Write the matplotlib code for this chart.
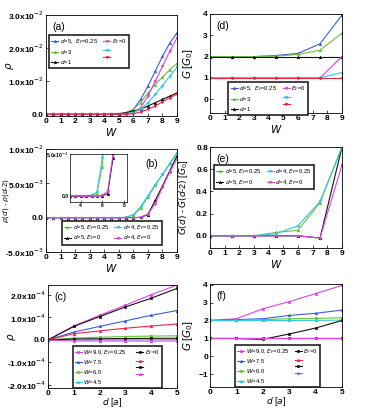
import matplotlib
matplotlib.use("Agg")
import matplotlib.pyplot as plt
import numpy as np

plt.rcParams['font.family'] = ['Liberation Sans', 'DejaVu Sans']
plt.rcParams['mathtext.fontset'] = 'dejavusans'

# colours
c_blue, c_green, c_black = '#3a5fd9', '#6cbf3a', '#111111'
c_mag, c_cyan, c_red = '#dd44e0', '#30c8e0', '#ee2244'

# ---- panel (a): rho vs W ----
w_a = [0, 0.5, 1, 1.5, 2, 2.5, 3, 3.5, 4, 4.5, 5, 5.5, 6, 6.5, 7, 7.5, 8, 8.5, 9]
a_d5_025 = [0, 0, 0, 0, 0, 0, 0, 0, 0, 0, 0.01, 0.05, 0.15, 0.45, 0.85, 1.3, 1.75, 2.15, 2.46]
a_d3_025 = [0, 0, 0, 0, 0, 0, 0, 0, 0, 0, 0.01, 0.05, 0.15, 0.35, 0.65, 0.9, 1.12, 1.35, 1.54]
a_d1_025 = [0, 0, 0, 0, 0, 0, 0, 0, 0, 0.01, 0.02, 0.05, 0.1, 0.16, 0.25, 0.35, 0.45, 0.55, 0.65]
a_d5_0 = [0, 0, 0, 0, 0, 0, 0, 0, 0, 0, 0, 0.01, 0.05, 0.2, 0.55, 1.0, 1.45, 1.9, 2.31]
a_d3_0 = [0, 0, 0, 0, 0, 0, 0, 0, 0, 0, 0, 0.01, 0.05, 0.15, 0.35, 0.6, 0.87, 1.15, 1.42]
a_d1_0 = [0, 0, 0, 0, 0, 0, 0, 0, 0, 0, 0, 0, 0.02, 0.07, 0.15, 0.25, 0.38, 0.5, 0.61]
a_yticks = [0, 1, 2, 3]
a_ylabels = ['0.0', '1.0x10$^{-2}$', '2.0x10$^{-2}$', '3.0x10$^{-2}$']

# ---- panel (d): G vs W ----
w_d = [0, 1.5, 3, 4.5, 6, 7.5, 9]
d_d5_025 = [2, 2, 2, 2.05, 2.15, 2.6, 3.95]
d_d3_025 = [2, 2, 2, 2.02, 2.1, 2.3, 3.1]
d_d1_025 = [2, 2, 2, 2, 2, 2, 2]
d_d5_0 = [1, 1, 1, 1, 1, 1, 2.0]
d_d3_0 = [1, 1, 1, 1, 1, 1, 1.25]
d_d1_0 = [1, 1, 1, 1, 1, 1, 1]

# ---- panel (b): rho(d) - rho(d-2) vs W (units of 1e-2) ----
b_d5_025 = [0, 0, 0, 0, 0, 0, 0, 0, 0, 0, 0.0005, 0.003, 0.035, 0.14, 0.3, 0.47, 0.63, 0.79, 0.95]
b_d4_025 = [0, 0, 0, 0, 0, 0, 0, 0, 0, 0.0003, 0.001, 0.005, 0.045, 0.16, 0.32, 0.48, 0.63, 0.78, 0.93]
b_d5_0 = [0, 0, 0, 0, 0, 0, 0, 0, 0, 0, 0, 0, 0.0005, 0.003, 0.045, 0.25, 0.46, 0.68, 0.9]
b_d4_0 = [0, 0, 0, 0, 0, 0, 0, 0, 0, 0, 0, 0, 0.001, 0.006, 0.05, 0.2, 0.44, 0.66, 0.86]
b_yticks = [-0.5, 0, 0.5, 1.0]
b_ylabels = ['-5.0x10$^{-3}$', '0.0', '5.0x10$^{-3}$', '1.0x10$^{-2}$']

# ---- panel (e): G(d) - G(d-2) vs W ----
e_d5_025 = [0, 0, 0, 0.03, 0.05, 0.30, 0.80]
e_d4_025 = [0, 0, 0, 0.02, 0.09, 0.31, 0.80]
e_d5_0 = [0, 0, 0, 0, 0, -0.02, 0.80]
e_d4_0 = [0, 0, 0, 0, 0, -0.02, 0.64]

# ---- panel (c): rho vs d (units of 1e-4) ----
d_c = [0, 1, 2, 3, 4, 5]
c_w9_025 = [0, 0.62, 1.1, 1.55, 2.02, 2.45]
c_w75_025 = [0, 0.35, 0.6, 0.85, 1.1, 1.31]
c_w6_025 = [0, 0.08, 0.12, 0.15, 0.17, 0.18]
c_w45_025 = [0, 0.0, 0.0, 0.0, 0.01, 0.01]
c_w9_0 = [0, 0.6, 1.04, 1.47, 1.86, 2.3]
c_w75_0 = [0, 0.28, 0.4, 0.52, 0.62, 0.71]
c_w6_0 = [0, 0.04, 0.05, 0.06, 0.07, 0.07]
c_w45_0 = [0, -0.05, -0.05, -0.05, -0.05, -0.05]
c_yticks = [-2, -1, 0, 1, 2]
c_ylabels = ['-2.0x10$^{-4}$', '-1.0x10$^{-4}$', '0.0', '1.0x10$^{-4}$', '2.0x10$^{-4}$']

# ---- panel (f): G vs d ----
f_w9_025 = [2.0, 2.1, 2.65, 3.05, 3.5, 3.95]
f_w75_025 = [2.0, 2.05, 2.1, 2.28, 2.4, 2.58]
f_w6_025 = [2.0, 2.0, 2.05, 2.1, 2.12, 2.15]
f_w45_025 = [2.0, 2.0, 2.0, 2.0, 2.01, 2.02]
f_w9_0 = [1, 1, 0.95, 1.25, 1.58, 2.0]
f_w75_0 = [1, 1, 1, 1, 1, 1]
f_w6_0 = [1, 1, 1, 1, 1, 1]
f_w45_0 = [1, 1, 1, 1, 1, 1]

fig = plt.figure(figsize=(3.73, 4.09), dpi=100)

TICK = dict(labelsize=6, direction='in', length=2, width=0.5, pad=1.5)


def style(ax):
    for s in ax.spines.values():
        s.set_linewidth(0.6)
    ax.tick_params(**TICK)
    for lab in ax.get_xticklabels() + ax.get_yticklabels():
        lab.set_fontweight('bold')


def line(ax, x, y, c, m):
    return ax.plot(x, y, '-', color=c, marker=m, ms=1.8, lw=0.8, mew=0.5)[0]


def leg(ax, handles, labels, x, y, colsp=0.9):
    lg = ax.legend(handles, labels, ncol=2, loc='upper left', bbox_to_anchor=(x, y),
                   fontsize=4.2, handlelength=1.2, handletextpad=0.3, columnspacing=colsp,
                   labelspacing=0.3, borderpad=0.35, borderaxespad=0, fancybox=False,
                   frameon=True, framealpha=1)
    lg.get_frame().set_edgecolor('#222222')
    lg.get_frame().set_linewidth(1.2)
    return lg


def ylab(ax, s, x, size=7.5):
    ax.set_ylabel(s, fontsize=size)
    ax.yaxis.set_label_coords(x, 0.5)


def xlab(ax, s, size=7.5, y=-0.1):
    ax.set_xlabel(s, fontsize=size)
    ax.xaxis.set_label_coords(0.5, y)


# (a)
ax = fig.add_axes([0.1233, 0.7164, 0.3512, 0.2469])
h = [line(ax, w_a, a_d5_025, c_blue, '^'), line(ax, w_a, a_d3_025, c_green, '^'),
     line(ax, w_a, a_d1_025, c_black, '^'), line(ax, w_a, a_d5_0, c_mag, 'v'),
     line(ax, w_a, a_d3_0, c_cyan, 'v'), line(ax, w_a, a_d1_0, c_red, 'v')]
ax.set_xlim(0, 9)
ax.set_ylim(-0.05, 3.0)
ax.set_xticks(range(10))
ax.set_yticks(a_yticks)
ax.set_yticklabels(a_ylabels, fontsize=4.2)
xlab(ax, '$W$')
ylab(ax, r'$\rho$', -0.23)
ax.text(0.05, 0.93, '(a)', transform=ax.transAxes, fontsize=7.5, va='top')
leg(ax, h, [r'$d$=5,  $E_F$=0.25', r'$d$=3', r'$d$=1', r'$E_F$=0', '', ''], 0.025, 0.8)
style(ax)

# (d)
ax = fig.add_axes([0.563, 0.7237, 0.3539, 0.2421])
h = [line(ax, w_d, d_d5_025, c_blue, '^'), line(ax, w_d, d_d3_025, c_green, '^'),
     line(ax, w_d, d_d1_025, c_black, '^'), line(ax, w_d, d_d5_0, c_mag, 'v'),
     line(ax, w_d, d_d3_0, c_cyan, 'v'), line(ax, w_d, d_d1_0, c_red, 'v')]
ax.set_xlim(0, 9)
ax.set_ylim(-0.65, 4)
ax.set_xticks(range(10))
ax.set_yticks([0, 1, 2, 3, 4])
xlab(ax, '$W$')
ylab(ax, r'$G$ [$G_0$]', -0.11)
ax.text(0.05, 0.93, '(d)', transform=ax.transAxes, fontsize=7.5, va='top')
leg(ax, h, [r'$d$=5,  $E_F$=0.25', r'$d$=3', r'$d$=1', r'$E_F$=0', '', ''], 0.14, 0.31)
style(ax)

# (b)
ax = fig.add_axes([0.1233, 0.3839, 0.3512, 0.2518])
h = [line(ax, w_a, b_d5_025, c_green, '^'), line(ax, w_a, b_d5_0, c_black, '^'),
     line(ax, w_a, b_d4_025, c_cyan, 'v'), line(ax, w_a, b_d4_0, c_mag, 'v')]
ax.set_xlim(0, 9)
ax.set_ylim(-0.5, 1.0)
ax.set_xticks(range(10))
ax.set_yticks(b_yticks)
ax.set_yticklabels(b_ylabels, fontsize=3.8)
xlab(ax, '$W$')
ylab(ax, r'$\rho(d)$ - $\rho(d$-2$)$', -0.27, 5.3)
ax.text(0.76, 0.9, '(b)', transform=ax.transAxes, fontsize=7.5, va='top')
leg(ax, h, [r'$d$=5, $E_F$=0.25', r'$d$=5, $E_F$=0', r'$d$=4, $E_F$=0.25', r'$d$=4, $E_F$=0'],
    0.12, 0.3)
style(ax)

# inset of (b)
ins = fig.add_axes([0.1877, 0.5061, 0.1528, 0.1174])
ins.plot(w_a, b_d5_025, '-', color=c_green, marker='^', ms=1.3, lw=0.7)
ins.plot(w_a, b_d4_025, '-', color=c_cyan, marker='v', ms=1.3, lw=0.7)
ins.plot(w_a, b_d5_0, '-', color=c_black, marker='^', ms=1.3, lw=0.7)
ins.plot(w_a, b_d4_0, '-', color=c_mag, marker='v', ms=1.3, lw=0.7)
ins.set_xlim(3, 8.3)
ins.set_ylim(-0.007, 0.05)
ins.set_xticks([4, 6, 8])
ins.set_yticks([0, 0.05])
ins.set_yticklabels(['0.0', '5.0x10$^{-4}$'])
ins.tick_params(labelsize=3.6, direction='in', length=1.5, width=0.4, pad=1)
for lb in ins.get_xticklabels() + ins.get_yticklabels():
    lb.set_fontweight('bold')
for s in ins.spines.values():
    s.set_linewidth(0.5)

# (e)
ax = fig.add_axes([0.563, 0.3936, 0.3539, 0.2469])
h = [line(ax, w_d, e_d5_025, c_green, '^'), line(ax, w_d, e_d5_0, c_black, '^'),
     line(ax, w_d, e_d4_025, c_cyan, 'v'), line(ax, w_d, e_d4_0, c_mag, 'v')]
ax.set_xlim(0, 9)
ax.set_ylim(-0.11, 0.8)
ax.set_xticks(range(10))
ax.set_yticks([0, 0.2, 0.4, 0.6, 0.8])
ax.set_yticklabels(['0.0', '0.2', '0.4', '0.6', '0.8'])
xlab(ax, '$W$')
ylab(ax, r'$G(d)$ - $G(d$-2$)$ [$G_0$]', -0.15, 6.5)
ax.text(0.05, 0.93, '(e)', transform=ax.transAxes, fontsize=7.5, va='top')
leg(ax, h, [r'$d$=5, $E_F$=0.25', r'$d$=5, $E_F$=0', r'$d$=4, $E_F$=0.25', r'$d$=4, $E_F$=0'],
    0.03, 0.82)
style(ax)

# (c)
ax = fig.add_axes([0.1287, 0.0513, 0.3458, 0.2518])
h = [line(ax, d_c, c_w9_025, c_mag, 's'), line(ax, d_c, c_w75_025, c_blue, '^'),
     line(ax, d_c, c_w6_025, c_green, 's'), line(ax, d_c, c_w45_025, c_cyan, '^'),
     line(ax, d_c, c_w9_0, c_black, 's'), line(ax, d_c, c_w75_0, c_red, '^'),
     line(ax, d_c, c_w6_0, c_black, 's'), line(ax, d_c, c_w45_0, c_mag, '^')]
ax.set_xlim(0, 5)
ax.set_ylim(-2.15, 2.45)
ax.set_xticks(range(6))
ax.set_yticks(c_yticks)
ax.set_yticklabels(c_ylabels, fontsize=4.2)
xlab(ax, '$d$ [$a$]', 6.5, -0.075)
ylab(ax, r'$\rho$', -0.23)
ax.text(0.05, 0.93, '(c)', transform=ax.transAxes, fontsize=7.5, va='top')
leg(ax, h, [r'$W$=9.0, $E_F$=0.25', r'$W$=7.5', r'$W$=6.0', r'$W$=4.5', r'$E_F$=0', '', '', ''],
    0.19, 0.41, 1.6)
style(ax)

# (f)
ax = fig.add_axes([0.563, 0.0538, 0.3539, 0.2518])
h = [line(ax, d_c, f_w9_025, c_mag, 's'), line(ax, d_c, f_w75_025, c_blue, '^'),
     line(ax, d_c, f_w6_025, c_green, 's'), line(ax, d_c, f_w45_025, c_cyan, '^'),
     line(ax, d_c, f_w9_0, c_black, 's'), line(ax, d_c, f_w75_0, c_red, '^'),
     line(ax, d_c, f_w6_0, c_black, 's'), line(ax, d_c, f_w45_0, c_mag, '^')]
ax.set_xlim(0, 5)
ax.set_ylim(-1.7, 4.03)
ax.set_xticks(range(6))
ax.set_yticks([-1, 0, 1, 2, 3, 4])
xlab(ax, '$d$ [$a$]', 6.5, -0.075)
ylab(ax, r'$G$ [$G_0$]', -0.11)
ax.text(0.05, 0.93, '(f)', transform=ax.transAxes, fontsize=7.5, va='top')
leg(ax, h, [r'$W$=9.0, $E_F$=0.25', r'$W$=7.5', r'$W$=6.0', r'$W$=4.5', r'$E_F$=0', '', '', ''],
    0.19, 0.41)
style(ax)

fig.savefig('out.png', dpi=100)
